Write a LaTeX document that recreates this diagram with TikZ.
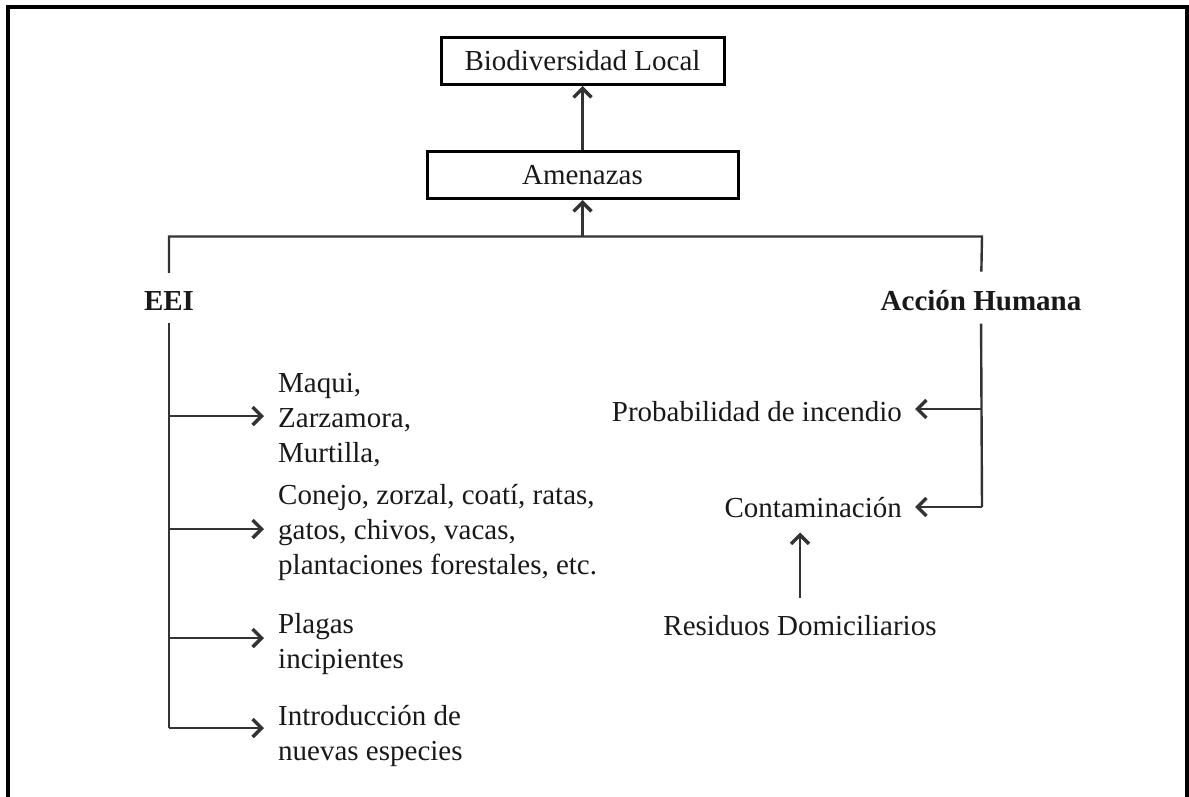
\documentclass[tikz,border=0pt]{standalone}
\usepackage{fontspec}
\setmainfont{Liberation Serif}
\usetikzlibrary{arrows.meta}
\begin{document}
\begin{tikzpicture}[x=1pt,y=-1pt,
  every node/.style={font=\fontsize{29}{35}\selectfont, inner sep=0pt, text=black!90},
  bold/.style={font=\fontsize{29}{35}\selectfont\bfseries},
  box/.style={draw, line width=3pt, minimum height=47pt},
  lbl/.style={align=left},
  conn/.style={draw=black!80, line width=2.4pt},
  arr/.style={conn, -{Straight Barb[length=9pt,width=18pt,line width=3.4pt]}},
  frame/.style={line width=3.2pt}]
\useasboundingbox (0,0) rectangle (1189,796);
\draw[frame] (8,815) -- (8,7) -- (1187,7) -- (1187,815);

% top boxes
\node[box, minimum width=283pt] (bio) at (582.5,61) {Biodiversidad Local};
\node[box, minimum width=311pt] (amen) at (582.5,175) {Amenazas};
\draw[arr] (amen.north) -- (bio.south);

% branch
\coordinate (j) at (582.5,236.5);
\coordinate (jl) at (169,236.5);
\coordinate (jr) at (982,236.5);
\node[bold, anchor=base] (eei) at (169,310) {EEI};
\node[bold, anchor=base] (ah) at (981,310) {Acción Humana};
\draw[conn, shorten <=18pt, shorten >=18pt] (eei.north) -- (jl) -- (jr) -- (ah.north);
\draw[arr] (j) -- (amen.south);

% left side (EEI)
\coordinate (tl1) at (169,416);
\coordinate (tl2) at (169,529);
\coordinate (tl3) at (169,638);
\coordinate (tl4) at (169,728);
\draw[conn, shorten <=13pt] (eei.south) -- (tl4);
\node[lbl, anchor=north west] (maqui) at (278,367.5) {\strut Maqui,\\Zarzamora,\\Murtilla,};
\node[lbl, anchor=north west] (conejo) at (278,479.5) {\strut Conejo, zorzal, coatí, ratas,\\gatos, chivos, vacas,\\plantaciones forestales, etc.};
\node[lbl, anchor=north west] (plagas) at (278,608.5) {\strut Plagas\\incipientes};
\node[lbl, anchor=north west] (intro) at (278,700.5) {\strut Introducción de\\nuevas especies};
\draw[arr, shorten >=14pt] (tl1) -- (tl1 -| maqui.west);
\draw[arr, shorten >=14pt] (tl2) -- (tl2 -| conejo.west);
\draw[arr, shorten >=14pt] (tl3) -- (tl3 -| plagas.west);
\draw[arr, shorten >=14pt] (tl4) -- (tl4 -| intro.west);

% right side (Accion Humana)
\coordinate (tr1) at (982,409);
\coordinate (tr2) at (982,507);
\draw[conn, shorten <=13pt] (ah.south) -- (tr2);
\node[anchor=base east] (prob) at (902,421) {Probabilidad de incendio};
\node[anchor=base east] (cont) at (902,517) {Contaminación};
\node[anchor=base] (res) at (800,635) {Residuos Domiciliarios};
\draw[arr, shorten >=13pt] (tr1) -- (tr1 -| prob.east);
\draw[arr, shorten >=13pt] (tr2) -- (tr2 -| cont.east);
\draw[arr, shorten <=17pt, shorten >=15pt] (res.north) -- (res.north |- cont.south);
\end{tikzpicture}
\end{document}
